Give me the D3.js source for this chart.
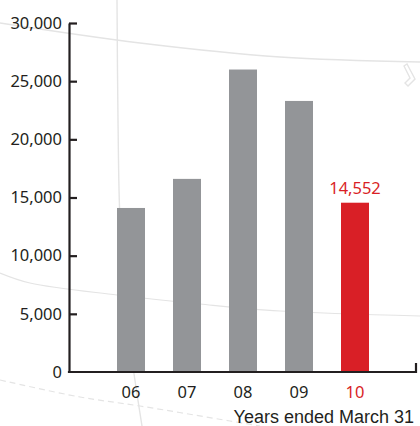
<!DOCTYPE html>
<html>
<head>
<meta charset="utf-8">
<script src="https://cdn.jsdelivr.net/npm/d3@7/dist/d3.min.js"></script>
<style>
  html, body { margin: 0; padding: 0; background: #fff; }
  svg { display: block; }
</style>
</head>
<body>
<svg id="chart" width="420" height="426"></svg>
<script>
// Fiscal years (ended March 31) and values
const years = ["06", "07", "08", "09", "10"];
const values = [14100, 16600, 26000, 23300, 14552];
const yTicks = [0, 5000, 10000, 15000, 20000, 25000, 30000];
const highlightYear = "10";
const axisNote = "Years ended March 31";

const plot = { left: 69, right: 416, top: 23, bottom: 372 };

const ink = "#231f20", grey = "#939598", red = "#d91f26", faint = "#e4e4e4";
const svg = d3.select("#chart");

// Faint decorative background strokes
const deco = svg.append("g").attr("fill", "none").attr("stroke", faint);
const curve = d3.line().curve(d3.curveCatmullRom);
deco.append("path").attr("stroke-width", 1.6)
  .attr("d", curve([[0, 23], [140, 43], [280, 57], [420, 62]]));
deco.append("path").attr("stroke-width", 1.4)
  .attr("d", curve([[117, 0], [118, 120], [120, 220], [127, 320], [142, 426]]));
deco.append("path").attr("stroke-width", 1.2)
  .attr("d", curve([[0, 273], [30, 283], [117, 295], [200, 304], [280, 311], [420, 316]]));
deco.append("path").attr("stroke-width", 1.2).attr("stroke-dasharray", "6,4")
  .attr("d", curve([[0, 380], [80, 397], [140, 406], [230, 421], [260, 426]]));
deco.append("path").attr("stroke-width", 1.4)
  .attr("d", "M404,66 L407,64 L415,79 L408,86 L405,83 L410,78 Z");

// Scales
const x = d3.scaleBand().domain(years).range([89, 397]).paddingInner(0.5).paddingOuter(0.5);
const y = d3.scaleLinear().domain([0, 30000]).range([plot.bottom, plot.top]);

// Bars
svg.append("g").selectAll("rect").data(years).join("rect")
  .attr("x", d => x(d))
  .attr("width", x.bandwidth())
  .attr("y", (d, i) => y(values[i]))
  .attr("height", (d, i) => y(0) - y(values[i]))
  .attr("fill", d => d === highlightYear ? red : grey);

// Value label for the highlighted year
const hi = years.indexOf(highlightYear);
svg.append("text")
  .attr("x", x(highlightYear) + x.bandwidth() / 2)
  .attr("y", y(values[hi]) - 9)
  .attr("text-anchor", "middle")
  .attr("font-family", "'Noto Sans', sans-serif")
  .attr("font-size", 16.5)
  .attr("fill", red)
  .text(d3.format(",")(values[hi]));

// Y axis, ticks pointing inward
const yAxis = svg.append("g").attr("transform", `translate(${plot.left},0)`)
  .call(d3.axisLeft(y).tickValues(yTicks).tickFormat(d3.format(","))
    .tickSizeInner(-8).tickSizeOuter(0).tickPadding(7));
yAxis.selectAll("path, line").attr("stroke", ink).attr("stroke-width", 2.2);
yAxis.selectAll("line").filter(d => d === 0).remove();
yAxis.selectAll("text")
  .attr("font-family", "'Noto Sans', sans-serif")
  .attr("font-size", 16.5)
  .attr("fill", ink);

// X axis labels
const xAxis = svg.append("g").attr("transform", `translate(0,${plot.bottom})`)
  .call(d3.axisBottom(x).tickSize(0).tickPadding(14));
xAxis.select(".domain").remove();
xAxis.selectAll("text")
  .attr("font-family", "'Noto Sans', sans-serif")
  .attr("font-size", 16.5)
  .attr("fill", d => d === highlightYear ? red : ink);

// Baseline with a closing tick at the right end
svg.append("path")
  .attr("d", `M${plot.left - 1.1},${plot.bottom} H${plot.right} V${plot.bottom - 9}`)
  .attr("fill", "none").attr("stroke", ink).attr("stroke-width", 2.2);

// Period note
svg.append("text")
  .attr("x", 414).attr("y", 423)
  .attr("text-anchor", "end")
  .attr("font-family", "'Liberation Sans', Arial, sans-serif")
  .attr("font-size", 18)
  .attr("fill", ink)
  .text(axisNote);
</script>
</body>
</html>
